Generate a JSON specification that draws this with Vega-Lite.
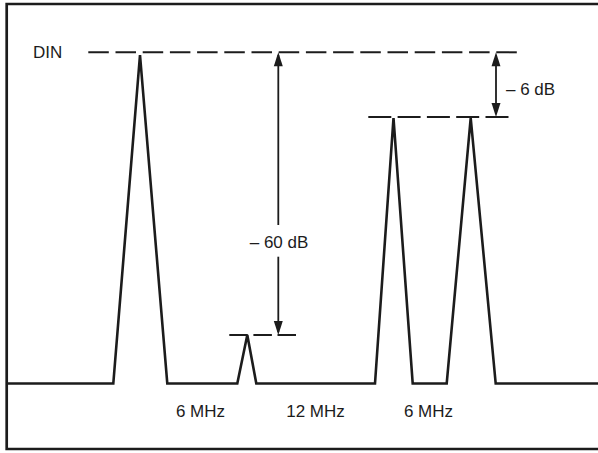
{
  "$schema": "https://vega.github.io/schema/vega-lite/v6.json",
  "width": 598,
  "height": 453,
  "autosize": {"type": "none"},
  "padding": 0,
  "background": "white",
  "config": {"view": {"stroke": null}},
  "datasets": {
    "frame": [{"f": 6.7, "f2": 640, "level": 449, "level2": 4}],
    "spectrum": [
      {"i": 0, "f": 6.7, "level": 69.5},
      {"i": 1, "f": 113.3, "level": 69.5},
      {"i": 2, "f": 140, "level": 398},
      {"i": 3, "f": 167.3, "level": 69.5},
      {"i": 4, "f": 237.3, "level": 69.5},
      {"i": 5, "f": 247.3, "level": 118},
      {"i": 6, "f": 256.3, "level": 69.5},
      {"i": 7, "f": 375, "level": 69.5},
      {"i": 8, "f": 393.5, "level": 335},
      {"i": 9, "f": 412.7, "level": 69.5},
      {"i": 10, "f": 446.7, "level": 69.5},
      {"i": 11, "f": 470.7, "level": 335},
      {"i": 12, "f": 495.7, "level": 69.5},
      {"i": 13, "f": 640, "level": 69.5}
    ],
    "dinLine": [{"f": 88.3, "f2": 517, "level": 400.7}],
    "lowLine": [{"f": 368.3, "f2": 508.5, "level": 336}],
    "smallLine": [{"f": 229.3, "f2": 296.2, "level": 118}],
    "shafts": [
      {"f": 278.3, "level": 398, "level2": 228},
      {"f": 278.3, "level": 196.3, "level2": 121},
      {"f": 496, "level": 398, "level2": 339}
    ],
    "heads": [
      {"f": 278.3, "level": 400.7, "dir": "up"},
      {"f": 278.3, "level": 118, "dir": "down"},
      {"f": 496, "level": 400.7, "dir": "up"},
      {"f": 496, "level": 336, "dir": "down"}
    ],
    "labelsLeft": [
      {"f": 33, "level": 394.7, "text": "DIN"},
      {"f": 506, "level": 358, "text": "– 6 dB"}
    ],
    "labelsCenter": [
      {"f": 279, "level": 204.7, "text": "– 60 dB"},
      {"f": 200.5, "level": 36, "text": "6 MHz"},
      {"f": 315.5, "level": 36, "text": "12 MHz"},
      {"f": 428.5, "level": 36, "text": "6 MHz"}
    ]
  },
  "encoding": {
    "x": {"field": "f", "type": "quantitative", "scale": {"domain": [0, 598], "nice": false, "zero": false}, "axis": null},
    "y": {"field": "level", "type": "quantitative", "scale": {"domain": [0, 453], "nice": false, "zero": false}, "axis": null}
  },
  "layer": [
    {
      "data": {"name": "frame"},
      "mark": {"type": "rect", "filled": false, "stroke": "#1c1c1c", "strokeWidth": 2.7},
      "encoding": {"x2": {"field": "f2"}, "y2": {"field": "level2"}}
    },
    {
      "data": {"name": "spectrum"},
      "mark": {"type": "line", "color": "#1c1c1c", "strokeWidth": 2.6, "strokeJoin": "miter", "strokeMiterLimit": 4},
      "encoding": {"order": {"field": "i", "type": "quantitative"}}
    },
    {
      "data": {"name": "dinLine"},
      "mark": {"type": "rule", "color": "#1c1c1c", "strokeWidth": 2, "strokeDash": [20.5, 6.7]},
      "encoding": {"x2": {"field": "f2"}}
    },
    {
      "data": {"name": "lowLine"},
      "mark": {"type": "rule", "color": "#1c1c1c", "strokeWidth": 2, "strokeDash": [23, 6.3]},
      "encoding": {"x2": {"field": "f2"}}
    },
    {
      "data": {"name": "smallLine"},
      "mark": {"type": "rule", "color": "#1c1c1c", "strokeWidth": 2, "strokeDash": [18.5, 5.6]},
      "encoding": {"x2": {"field": "f2"}}
    },
    {
      "data": {"name": "shafts"},
      "mark": {"type": "rule", "color": "#1c1c1c", "strokeWidth": 1.8},
      "encoding": {"y2": {"field": "level2"}}
    },
    {
      "data": {"name": "heads"},
      "mark": {"type": "point", "filled": true, "color": "#1c1c1c", "size": 196, "opacity": 1, "strokeWidth": 0},
      "encoding": {
        "shape": {
          "field": "dir",
          "type": "nominal",
          "scale": {"domain": ["up", "down"], "range": ["M0,0L0.64,2L-0.64,2Z", "M0,0L0.64,-2L-0.64,-2Z"]},
          "legend": null
        }
      }
    },
    {
      "data": {"name": "labelsLeft"},
      "mark": {"type": "text", "align": "left", "baseline": "alphabetic", "font": "Liberation Sans", "fontSize": 17, "color": "#1c1c1c"},
      "encoding": {"text": {"field": "text", "type": "nominal"}}
    },
    {
      "data": {"name": "labelsCenter"},
      "mark": {"type": "text", "align": "center", "baseline": "alphabetic", "font": "Liberation Sans", "fontSize": 17, "color": "#1c1c1c"},
      "encoding": {"text": {"field": "text", "type": "nominal"}}
    }
  ]
}
